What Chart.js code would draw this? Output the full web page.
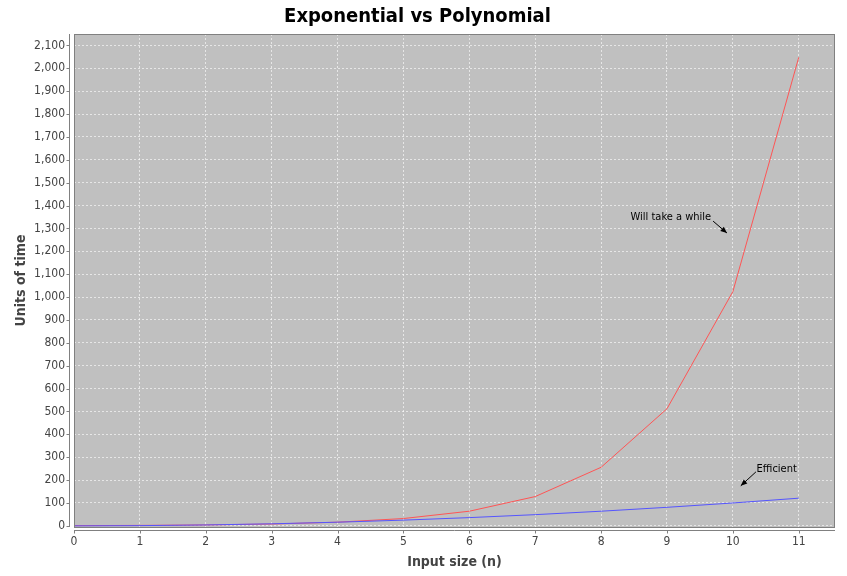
<!DOCTYPE html>
<html>
<head>
<meta charset="utf-8">
<script src="https://cdn.jsdelivr.net/npm/chart.js@4.4.0/dist/chart.umd.min.js"></script>
<style>
  html, body { margin: 0; padding: 0; background: #fff; }
</style>
</head>
<body>
<canvas id="myChart" width="847" height="576"></canvas>
<script>
// input sizes and the two series
const inputSizes = [0, 1, 2, 3, 4, 5, 6, 7, 8, 9, 10, 11];
const exponential = [1, 2, 4, 8, 16, 32, 64, 128, 256, 512, 1024, 2048];
const polynomial = [0, 1, 4, 9, 16, 25, 36, 49, 64, 81, 100, 121];

// tick values on both axes
const xTicks = [0, 1, 2, 3, 4, 5, 6, 7, 8, 9, 10, 11];
const yTicks = [0, 100, 200, 300, 400, 500, 600, 700, 800, 900, 1000,
  1100, 1200, 1300, 1400, 1500, 1600, 1700, 1800, 1900, 2000, 2100];

// pointer notes: text anchor, arrow start and arrow tip, in data units
const notes = [
  { text: 'Will take a while', align: 'right', x: 9.67, y: 1349, fromX: 9.70, fromY: 1332, tipX: 9.91, tipY: 1280 },
  { text: 'Efficient', align: 'left', x: 10.36, y: 249, fromX: 10.35, fromY: 236, tipX: 10.12, tipY: 175 }
];

const gray = '#808080';
const cond = '"DejaVu Sans Condensed", "DejaVu Sans", sans-serif';

const frame = {
  id: 'frame',
  beforeDraw(chart) {
    const a = chart.chartArea;
    const ctx = chart.ctx;
    ctx.save();
    ctx.fillStyle = '#c0c0c0';
    ctx.fillRect(a.left, a.top, a.right - a.left, a.bottom - a.top);
    ctx.restore();
  },
  afterDraw(chart) {
    const a = chart.chartArea;
    const ctx = chart.ctx;
    const xs = chart.scales.x, ys = chart.scales.y;
    ctx.save();
    ctx.strokeStyle = gray;
    ctx.lineWidth = 1;
    ctx.strokeRect(a.left + 0.5, a.top + 0.5, a.right - a.left - 1, a.bottom - a.top);

    // axis lines set off from the plot, with outside tick marks
    ctx.beginPath();
    const ax = a.left - 4.5;
    ctx.moveTo(ax, a.top);
    ctx.lineTo(ax, a.bottom);
    ys.ticks.forEach(t => {
      const py = Math.round(ys.getPixelForValue(t.value)) + 0.5;
      ctx.moveTo(ax, py);
      ctx.lineTo(ax - 3, py);
    });
    const ay = a.bottom + 3.5;
    ctx.moveTo(a.left, ay);
    ctx.lineTo(a.right, ay);
    xs.ticks.forEach(t => {
      const px = Math.round(xs.getPixelForValue(t.value)) + 0.5;
      ctx.moveTo(px, ay);
      ctx.lineTo(px, ay + 3);
    });
    ctx.stroke();

    // pointer annotations
    ctx.fillStyle = '#000';
    ctx.strokeStyle = '#000';
    ctx.font = '11px ' + cond;
    ctx.textBaseline = 'middle';
    notes.forEach(n => {
      ctx.textAlign = n.align;
      ctx.fillText(n.text, xs.getPixelForValue(n.x), ys.getPixelForValue(n.y));
      const x1 = xs.getPixelForValue(n.fromX), y1 = ys.getPixelForValue(n.fromY);
      const x2 = xs.getPixelForValue(n.tipX), y2 = ys.getPixelForValue(n.tipY);
      const ang = Math.atan2(y2 - y1, x2 - x1);
      ctx.beginPath();
      ctx.moveTo(x1, y1);
      ctx.lineTo(x2, y2);
      ctx.stroke();
      ctx.beginPath();
      ctx.moveTo(x2, y2);
      ctx.lineTo(x2 - 7 * Math.cos(ang - 0.4), y2 - 7 * Math.sin(ang - 0.4));
      ctx.lineTo(x2 - 7 * Math.cos(ang + 0.4), y2 - 7 * Math.sin(ang + 0.4));
      ctx.closePath();
      ctx.fill();
    });
    ctx.restore();
  }
};

function drawChart() {
  const data = {
    datasets: [
      {
        label: 'Polynomial',
        data: inputSizes.map((n, i) => ({ x: n, y: polynomial[i] })),
        borderColor: '#5555ff',
        borderWidth: 1,
        pointRadius: 0,
        tension: 0
      },
      {
        label: 'Exponential',
        data: inputSizes.map((n, i) => ({ x: n, y: exponential[i] })),
        borderColor: '#ff5555',
        borderWidth: 1,
        pointRadius: 0,
        tension: 0
      }
    ]
  };

  const tickFont = { family: cond, size: 12 };
  const axisTitleFont = { family: cond, size: 14, weight: 'bold' };
  const gridLine = { color: 'rgba(255,255,255,0.6)', drawTicks: false, lineWidth: 1 };

  const config = {
    type: 'line',
    data: data,
    plugins: [frame],
    options: {
      responsive: false,
      animation: false,
      layout: { padding: { left: 0, right: 12, top: 0, bottom: 0 } },
      plugins: {
        legend: { display: false },
        tooltip: { enabled: false },
        title: {
          display: true,
          text: 'Exponential vs Polynomial',
          color: '#000',
          font: { family: cond, size: 20, weight: 'bold' },
          padding: { top: 5, bottom: 5 }
        }
      },
      scales: {
        x: {
          type: 'linear',
          min: 0,
          max: 11.55,
          afterBuildTicks: s => { s.ticks = xTicks.map(v => ({ value: v })); },
          afterFit: s => { s.height = 49; },
          ticks: { color: '#444', font: tickFont, padding: 8 },
          grid: gridLine,
          border: { display: false, dash: [2, 2] },
          title: { display: true, text: 'Input size (n)', color: '#444', font: axisTitleFont, padding: { top: 0, bottom: 5 } }
        },
        y: {
          type: 'linear',
          min: -5,
          max: 2150,
          afterBuildTicks: s => { s.ticks = yTicks.map(v => ({ value: v })); },
          afterFit: s => { s.width = 74; },
          ticks: { color: '#444', font: tickFont, padding: 9 },
          grid: gridLine,
          border: { display: false, dash: [2, 2] },
          title: { display: true, text: 'Units of time', color: '#444', font: axisTitleFont, padding: { top: 13, bottom: 0 } }
        }
      }
    }
  };

  new Chart(document.getElementById('myChart'), config);
}

drawChart();
</script>
</body>
</html>
